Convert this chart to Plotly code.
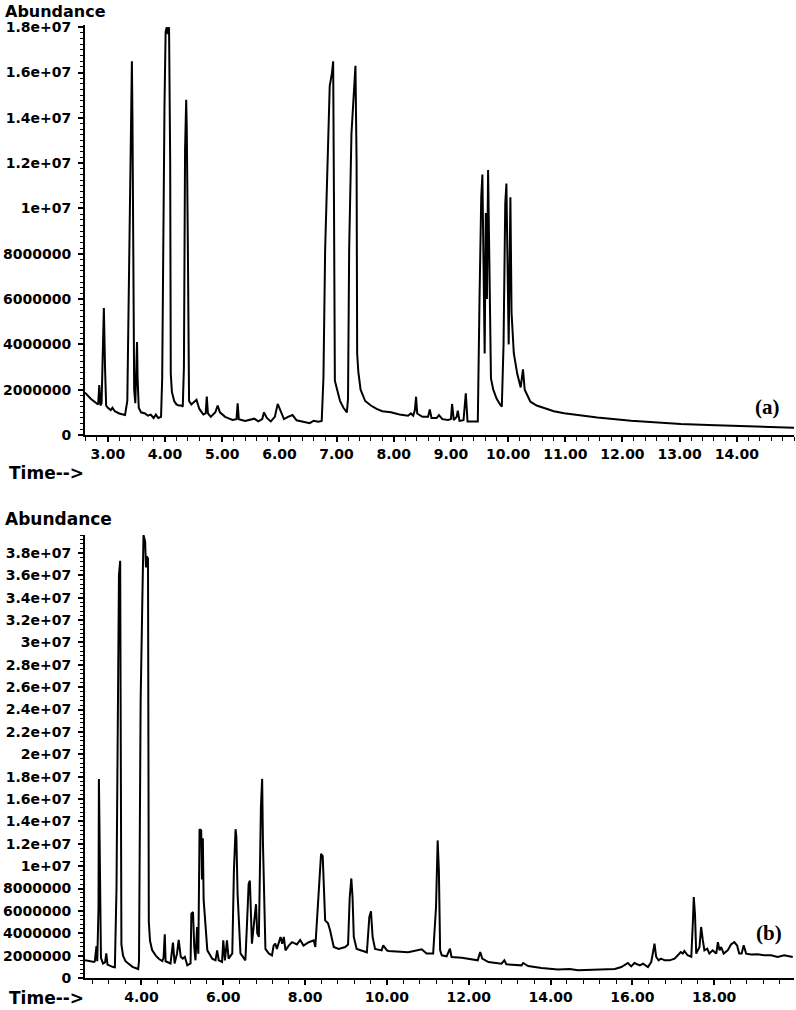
import plotly.graph_objects as go

# ---------------- data: chromatogram (a) ----------------
time_a = [2.60, 2.70, 2.80, 2.83, 2.85, 2.87, 2.89, 2.91, 2.93, 2.95, 2.97, 3.00, 3.05, 3.08, 3.12, 3.20,
          3.30, 3.34, 3.36, 3.38, 3.40, 3.42, 3.43, 3.44, 3.46, 3.48, 3.50, 3.51, 3.52, 3.54, 3.58, 3.65,
          3.70, 3.75, 3.80, 3.84, 3.88, 3.93, 3.95, 3.97, 3.99, 4.01, 4.03, 4.05, 4.07, 4.09, 4.10, 4.12,
          4.16, 4.20, 4.24, 4.28, 4.31, 4.33, 4.35, 4.37, 4.38, 4.40, 4.42, 4.46, 4.52, 4.55, 4.60, 4.67,
          4.71, 4.73, 4.75, 4.80, 4.88, 4.92, 4.96, 5.05, 5.18, 5.25, 5.27, 5.29, 5.40, 5.56, 5.63, 5.70,
          5.73, 5.78, 5.85, 5.92, 5.97, 6.02, 6.08, 6.15, 6.23, 6.30, 6.40, 6.53, 6.60, 6.68, 6.74, 6.77,
          6.80, 6.84, 6.88, 6.92, 6.94, 6.955, 6.97, 7.00, 7.06, 7.12, 7.18, 7.20, 7.22, 7.26, 7.30, 7.33,
          7.35, 7.36, 7.38, 7.42, 7.50, 7.60, 7.70, 7.80, 7.95, 8.10, 8.25, 8.30, 8.34, 8.37, 8.39, 8.41,
          8.50, 8.60, 8.63, 8.66, 8.75, 8.79, 8.85, 8.95, 9.00, 9.02, 9.05, 9.10, 9.12, 9.15, 9.22, 9.26,
          9.29, 9.40, 9.47, 9.50, 9.53, 9.55, 9.57, 9.59, 9.61, 9.63, 9.65, 9.67, 9.70, 9.74, 9.80, 9.86,
          9.89, 9.92, 9.95, 9.97, 9.99, 10.01, 10.04, 10.06, 10.10, 10.16, 10.22, 10.26, 10.29, 10.39,
          10.50, 10.63, 10.80, 10.98, 11.30, 11.56, 12.15, 12.60, 13.02, 13.50, 13.90, 14.50, 15.00]
abund_a_millions = [1.87, 1.60, 1.40, 1.35, 2.20, 1.30, 1.40, 4.30, 5.60, 3.00, 1.30, 1.20, 1.10, 1.20, 1.05, 0.95,
                    0.88, 1.50, 5.00, 9.00, 14.0, 16.5, 14.0, 9.0, 2.0, 1.4, 2.9, 4.1, 2.5, 1.2, 1.0, 0.95,
                    0.85, 0.90, 0.75, 0.90, 0.75, 0.80, 2.5, 10.0, 14.5, 17.8, 18.0, 17.7, 18.0, 12.0, 2.7, 1.9,
                    1.5, 1.35, 1.3, 1.3, 1.25, 3.0, 12.6, 14.8, 13.5, 8.0, 1.5, 1.35, 1.5, 1.55, 1.15, 0.9,
                    0.95, 1.7, 0.95, 0.8, 1.0, 1.3, 1.0, 0.8, 0.66, 0.7, 1.4, 0.7, 0.62, 0.72, 0.6, 0.7,
                    1.0, 0.75, 0.6, 0.8, 1.37, 1.05, 0.7, 0.8, 0.88, 0.65, 0.6, 0.52, 0.63, 0.58, 0.62, 2.5,
                    8.2, 11.5, 15.4, 16.0, 16.5, 10.0, 2.4, 2.1, 1.5, 1.2, 1.0, 1.6, 8.2, 13.3, 15.3, 16.3,
                    12.0, 3.6, 2.8, 2.0, 1.5, 1.3, 1.15, 1.05, 1.0, 0.9, 0.85, 0.95, 0.85, 1.1, 1.69, 0.95,
                    0.8, 0.8, 1.13, 0.75, 0.75, 0.88, 0.7, 0.66, 0.7, 1.37, 0.66, 0.8, 1.07, 0.62, 0.65, 1.84,
                    0.6, 0.58, 0.6, 6.0, 10.5, 11.5, 7.0, 3.6, 9.8, 6.0, 11.7, 7.0, 2.5, 2.0, 1.6, 1.35,
                    1.25, 4.0, 10.2, 11.1, 8.0, 4.0, 10.5, 5.4, 3.6, 2.7, 2.1, 2.9, 2.0, 1.47,
                    1.3, 1.18, 1.05, 0.96, 0.85, 0.77, 0.63, 0.55, 0.49, 0.44, 0.40, 0.36, 0.32]

# ---------------- data: chromatogram (b) ----------------
time_b = [2.62, 2.84, 2.86, 2.90, 2.92, 2.95, 2.96, 2.99, 3.01, 3.06, 3.11, 3.14, 3.17, 3.29, 3.35, 3.39,
          3.41, 3.43, 3.45, 3.48, 3.49, 3.51, 3.55, 3.61, 3.78, 3.92, 3.94, 3.96, 3.98, 4.02, 4.04, 4.05,
          4.09, 4.11, 4.13, 4.16, 4.17, 4.18, 4.21, 4.26, 4.35, 4.43, 4.51, 4.54, 4.57, 4.59, 4.71, 4.77,
          4.81, 4.87, 4.91, 4.96, 5.01, 5.06, 5.12, 5.20, 5.22, 5.26, 5.29, 5.32, 5.36, 5.39, 5.42, 5.46,
          5.48, 5.50, 5.52, 5.57, 5.61, 5.73, 5.81, 5.85, 5.89, 5.97, 6.00, 6.04, 6.09, 6.13, 6.22, 6.26,
          6.30, 6.32, 6.35, 6.42, 6.50, 6.54, 6.58, 6.62, 6.65, 6.68, 6.70, 6.74, 6.80, 6.83, 6.87, 6.92,
          6.95, 6.97, 7.00, 7.03, 7.11, 7.19, 7.23, 7.27, 7.31, 7.40, 7.44, 7.48, 7.52, 7.60, 7.68, 7.80,
          7.88, 7.96, 8.09, 8.21, 8.25, 8.31, 8.35, 8.39, 8.43, 8.46, 8.49, 8.56, 8.61, 8.70, 8.82, 8.98,
          9.05, 9.09, 9.13, 9.16, 9.19, 9.26, 9.39, 9.51, 9.57, 9.61, 9.65, 9.71, 9.87, 9.91, 10.00, 10.04,
          10.52, 10.85, 10.97, 11.13, 11.20, 11.24, 11.27, 11.30, 11.34, 11.46, 11.54, 11.58, 11.83, 12.07,
          12.22, 12.28, 12.33, 12.48, 12.80, 12.87, 12.92, 13.29, 13.33, 13.45, 13.78, 14.18, 14.47, 14.67,
          15.08, 15.57, 15.73, 15.89, 15.97, 16.05, 16.18, 16.26, 16.38, 16.46, 16.52, 16.54, 16.58, 16.64,
          16.70, 16.79, 16.91, 17.03, 17.11, 17.18, 17.23, 17.27, 17.35, 17.44, 17.48, 17.50, 17.53, 17.56,
          17.64, 17.68, 17.72, 17.76, 17.83, 17.88, 17.96, 18.05, 18.09, 18.13, 18.17, 18.23, 18.33, 18.41,
          18.49, 18.56, 18.61, 18.67, 18.72, 18.78, 18.90, 19.06, 19.22, 19.39, 19.55, 19.71, 19.92]
abund_b_millions = [1.58, 1.43, 1.5, 2.86, 1.5, 6.3, 17.8, 6.0, 1.8, 1.3, 1.4, 2.2, 1.2, 1.0, 0.95, 8.0,
                    20.0, 31.7, 36.0, 37.3, 20.0, 3.0, 2.0, 1.5, 1.0, 0.8, 1.5, 15.0, 24.8, 33.5, 39.4, 39.6,
                    39.0, 36.7, 37.7, 37.5, 21.0, 5.0, 3.3, 2.5, 2.0, 1.7, 1.52, 1.8, 3.9, 1.5, 1.3, 3.16,
                    1.3, 2.2, 3.4, 1.9, 1.73, 1.9, 1.13, 1.3, 5.75, 5.9, 2.8, 1.58, 4.56, 2.18, 13.3, 13.2,
                    8.8, 12.5, 7.0, 3.96, 2.47, 1.73, 1.58, 2.47, 1.58, 1.43, 3.37, 1.58, 3.37, 1.73, 2.2, 9.6,
                    13.3, 12.6, 7.5, 2.2, 1.73, 1.58, 4.86, 8.4, 8.7, 4.6, 3.07, 4.5, 6.6, 4.0, 3.67, 15.3,
                    17.8, 12.0, 6.3, 2.6, 2.2, 2.03, 2.9, 3.07, 2.6, 3.67, 3.07, 3.67, 2.47, 2.9, 3.2, 3.0,
                    3.4, 2.9, 3.2, 3.37, 2.77, 6.35, 8.4, 11.1, 10.9, 7.9, 5.15, 4.9, 4.26, 2.77, 2.6, 2.77,
                    3.0, 7.2, 8.9, 7.2, 3.67, 2.6, 2.47, 2.3, 5.45, 5.96, 3.67, 2.6, 2.47, 2.92, 2.47, 2.41,
                    2.3, 2.56, 2.18, 2.18, 6.35, 12.3, 9.6, 2.5, 2.03, 1.94, 2.62, 1.88, 1.82, 1.64,
                    1.58, 2.32, 1.73, 1.43, 1.28, 1.58, 1.22, 1.13, 1.34, 1.07, 0.89, 0.75, 0.8, 0.69,
                    0.75, 0.8, 0.98, 1.34, 1.04, 1.34, 1.13, 1.28, 0.98, 1.43, 2.62, 3.07, 1.9, 1.58,
                    1.73, 1.58, 1.58, 1.73, 2.03, 2.32, 2.18, 2.41, 2.03, 1.9, 5.16, 7.24, 5.7, 2.18,
                    2.77, 4.56, 3.4, 2.47, 2.62, 2.18, 2.47, 2.18, 3.2, 2.47, 2.77, 2.18, 2.47, 3.0,
                    3.2, 2.9, 2.18, 2.18, 2.92, 2.18, 2.1, 2.13, 2.03, 2.03, 1.88, 2.03, 1.88]

# ---------------- tick labels ----------------
ytick_a_vals = [0, 2e6, 4e6, 6e6, 8e6, 1e7, 1.2e7, 1.4e7, 1.6e7, 1.8e7]
ytick_a_text = ["0", "2000000", "4000000", "6000000", "8000000", "1e+07", "1.2e+07", "1.4e+07", "1.6e+07", "1.8e+07"]
ytick_b_vals = [0, 2e6, 4e6, 6e6, 8e6, 1e7, 1.2e7, 1.4e7, 1.6e7, 1.8e7, 2e7, 2.2e7, 2.4e7, 2.6e7, 2.8e7,
                3e7, 3.2e7, 3.4e7, 3.6e7, 3.8e7]
ytick_b_text = ["0", "2000000", "4000000", "6000000", "8000000", "1e+07", "1.2e+07", "1.4e+07", "1.6e+07",
                "1.8e+07", "2e+07", "2.2e+07", "2.4e+07", "2.6e+07", "2.8e+07", "3e+07", "3.2e+07",
                "3.4e+07", "3.6e+07", "3.8e+07"]
xtick_a_vals = [3, 4, 5, 6, 7, 8, 9, 10, 11, 12, 13, 14]
xtick_b_vals = [4, 6, 8, 10, 12, 14, 16, 18]

abund_a = [v * 1e6 for v in abund_a_millions]
abund_b = [v * 1e6 for v in abund_b_millions]

fig = go.Figure()
fig.add_trace(go.Scatter(x=time_a, y=abund_a, mode="lines", line=dict(color="black", width=2),
                         xaxis="x", yaxis="y", showlegend=False))
fig.add_trace(go.Scatter(x=time_b, y=abund_b, mode="lines", line=dict(color="black", width=2),
                         xaxis="x2", yaxis="y2", showlegend=False))

tickfont = dict(family="DejaVu Sans", size=14, color="black", weight="bold")

def xax(domain_anchor, rng, vals, minor_dt):
    return dict(range=rng, anchor=domain_anchor, showline=True, linecolor="black", linewidth=2,
                ticks="outside", ticklen=5, tickwidth=1.5, tickcolor="black", automargin=False,
                tickvals=vals, ticktext=["%.2f" % v for v in vals], tickfont=tickfont,
                showgrid=False, zeroline=False, ticklabelstandoff=0,
                minor=dict(dtick=minor_dt, tick0=0, ticks="outside", ticklen=4, tickwidth=1.2,
                           tickcolor="black", showgrid=False))

def yax(domain, anchor, rng, vals, text, minor_dt):
    return dict(domain=domain, range=rng, anchor=anchor, showline=True, linecolor="black", linewidth=2,
                ticks="outside", ticklen=5, tickwidth=1.5, tickcolor="black", automargin=False,
                tickvals=vals, ticktext=text, tickfont=tickfont,
                showgrid=False, zeroline=False, ticklabelstandoff=4,
                minor=dict(dtick=minor_dt, tick0=0, ticks="outside", ticklen=3, tickwidth=1,
                           tickcolor="black", showgrid=False))

fig.update_layout(
    template="none",
    width=796, height=1010,
    margin=dict(l=85, r=2, t=25, b=32, autoexpand=False),
    paper_bgcolor="white", plot_bgcolor="white",
    xaxis=xax("y", [2.6, 15.0], xtick_a_vals, 0.2),
    yaxis=yax([0.5698, 1.0], "x", [0, 1.81e7], ytick_a_vals, ytick_a_text, 2.5e5),
    xaxis2=xax("y2", [2.62, 19.95], xtick_b_vals, 0.4),
    yaxis2=yax([0.0, 0.4648], "x2", [0, 3.96e7], ytick_b_vals, ytick_b_text, 4e5),
)

labfont = dict(family="DejaVu Sans", size=17, color="black", weight="bold")
labfont_top = dict(family="DejaVu Sans", size=16, color="black", weight="bold")
serif = dict(family="Liberation Serif", size=21, color="black", weight="bold")
annots = [
    dict(text="Abundance", x=-0.116, y=1.0262, xanchor="left", yanchor="top", font=labfont_top),
    dict(text="Time-->", x=-0.110, y=0.5299, xanchor="left", yanchor="middle", font=labfont),
    dict(text="Abundance", x=-0.116, y=0.4816, xanchor="left", yanchor="middle", font=labfont),
    dict(text="Time-->", x=-0.110, y=-0.0336, xanchor="left", yanchor="bottom", font=labfont),
    dict(text="(a)", x=0.963, y=0.599, xanchor="center", yanchor="middle", font=serif),
    dict(text="(b)", x=0.965, y=0.0472, xanchor="center", yanchor="middle", font=serif),
]
for a in annots:
    fig.add_annotation(xref="paper", yref="paper", showarrow=False, **a)

# remove the browser's default 8px page margin so the figure sits at the window origin
fig.write_html("out.html", config={"displayModeBar": False},
               post_script="document.body.style.margin='0';")
